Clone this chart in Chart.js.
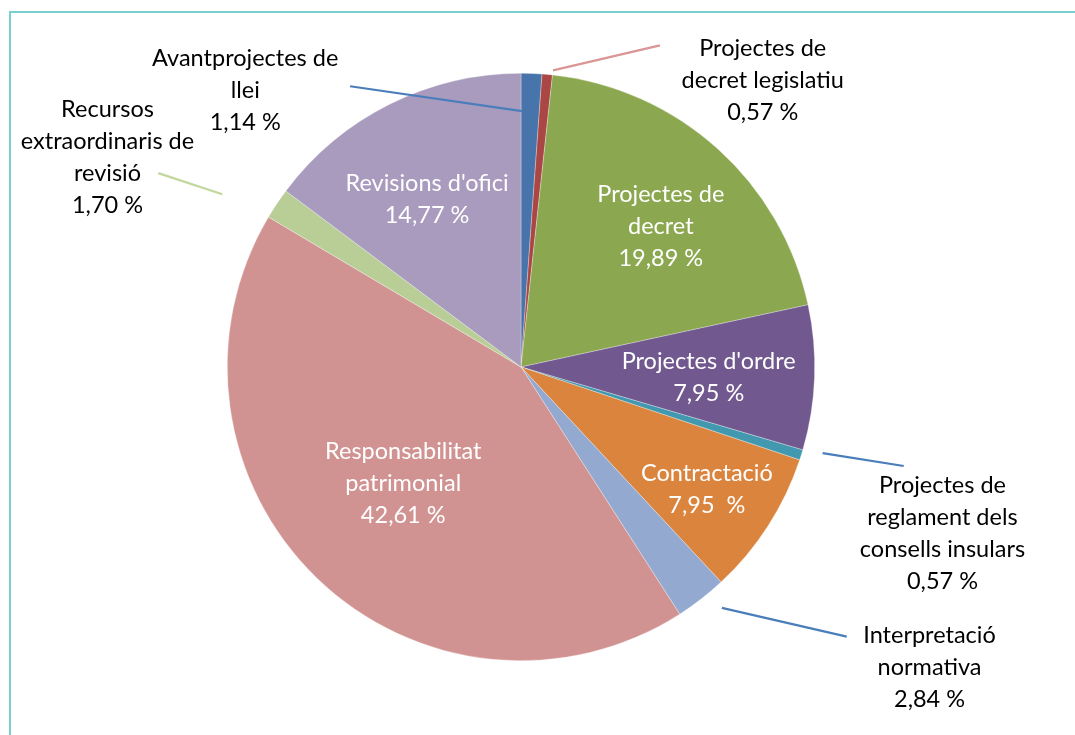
<!DOCTYPE html>
<html>
<head>
<meta charset="utf-8">
<script src="https://cdn.jsdelivr.net/npm/chart.js@4"></script>
<style>
  html, body { margin: 0; padding: 0; background: #fff; }
  #wrap { position: relative; width: 1075px; height: 735px; overflow: hidden; }
  #frame { position: absolute; left: 9px; top: 11px; width: 1100px; height: 760px;
           border-left: 2px solid #7ACFD0; border-top: 2px solid #7ACFD0; }
  #pie { position: absolute; left: 0; top: 0; }
</style>
</head>
<body>
<div id="wrap">
  <div id="frame"></div>
  <canvas id="pie" width="1075" height="735"></canvas>
</div>
<script>
// -----------------------------
// Data (clockwise from 12 o'clock)
// -----------------------------
const categories = [
  "Avantprojectes de llei",
  "Projectes de decret legislatiu",
  "Projectes de decret",
  "Projectes d'ordre",
  "Projectes de reglament dels consells insulars",
  "Contractació",
  "Interpretació normativa",
  "Responsabilitat patrimonial",
  "Recursos extraordinaris de revisió",
  "Revisions d'ofici"
];
const shares = [1.14, 0.57, 19.89, 7.95, 0.57, 7.95, 2.84, 42.61, 1.70, 14.77];
const shareText = ["1,14 %", "0,57 %", "19,89 %", "7,95 %", "0,57 %", "7,95  %", "2,84 %", "42,61 %", "1,70 %", "14,77 %"];
// how each label is broken into lines
const labelLines = [
  ["Avantprojectes de", "llei"],
  ["Projectes de", "decret legislatiu"],
  ["Projectes de", "decret"],
  ["Projectes d'ordre"],
  ["Projectes de", "reglament dels", "consells insulars"],
  ["Contractació"],
  ["Interpretació", "normativa"],
  ["Responsabilitat", "patrimonial"],
  ["Recursos", "extraordinaris de", "revisió"],
  ["Revisions d'ofici"]
];

const sliceColors = ["#4674AB", "#AA4644", "#8BA74F", "#71588F", "#4198AF",
                     "#DB843D", "#93A9D0", "#D19392", "#B9CE96", "#A99BBD"];

// -----------------------------
// Label layout, in units of the pie radius from its centre
// inside: true -> white text on the slice
// leader: [from, to] for outside labels
// -----------------------------
const labelLayout = [
  { pos: [-0.939, -0.942], inside: false, leader: [[-0.582, -0.956], [0.003, -0.871]], lineColor: "#4A7EBB" },
  { pos: [0.823, -0.976],  inside: false, leader: [[0.473, -1.095], [0.109, -1.010]], lineColor: "#D99694" },
  { pos: [0.476, -0.480],  inside: true },
  { pos: [0.639, 0.037],   inside: true },
  { pos: [1.435, 0.568],   inside: false, leader: [[1.027, 0.293], [1.303, 0.337]], lineColor: "#4A7EBB" },
  { pos: [0.633, 0.418],   inside: true },
  { pos: [1.391, 1.024],   inside: false, leader: [[0.684, 0.820], [1.109, 0.918]], lineColor: "#4A7EBB" },
  { pos: [-0.401, 0.398],  inside: true },
  { pos: [-1.408, -0.714], inside: false, leader: [[-1.235, -0.660], [-1.017, -0.588]], lineColor: "#C3D69B" },
  { pos: [-0.320, -0.571], inside: true }
];

const FONT = '23.5px Lato, "Open Sans", sans-serif';
const LINE_H = 32;

// -----------------------------
// Label plugin
// -----------------------------
const pieLabels = {
  id: "pieLabels",
  afterDatasetsDraw(chart) {
    const ctx = chart.ctx;
    const arc = chart.getDatasetMeta(0).data[0];
    const cx = arc.x, cy = arc.y, R = arc.outerRadius;

    ctx.save();
    ctx.font = FONT;
    ctx.textAlign = "center";
    ctx.textBaseline = "middle";

    labelLayout.forEach((lay, i) => {
      if (lay.leader) {
        ctx.strokeStyle = lay.lineColor;
        ctx.lineWidth = 2.2;
        ctx.beginPath();
        ctx.moveTo(cx + lay.leader[0][0] * R, cy + lay.leader[0][1] * R);
        ctx.lineTo(cx + lay.leader[1][0] * R, cy + lay.leader[1][1] * R);
        ctx.stroke();
      }
      const lines = labelLines[i].concat([shareText[i]]);
      const x = cx + lay.pos[0] * R;
      const y0 = cy + lay.pos[1] * R - (lines.length - 1) * LINE_H / 2;
      ctx.fillStyle = lay.inside ? "#ffffff" : "#000000";
      lines.forEach((t, k) => ctx.fillText(t, x, y0 + k * LINE_H));
    });
    ctx.restore();
  }
};

new Chart(document.getElementById("pie"), {
  type: "pie",
  data: {
    labels: categories,
    datasets: [{
      data: shares,
      backgroundColor: sliceColors,
      borderColor: "rgba(255,255,255,0.5)",
      borderWidth: 0.6
    }]
  },
  options: {
    responsive: false,
    animation: false,
    layout: { padding: { left: 227, right: 260, top: 73, bottom: 74 } },
    plugins: { legend: { display: false }, tooltip: { enabled: false } }
  },
  plugins: [pieLabels]
});
</script>
</body>
</html>
